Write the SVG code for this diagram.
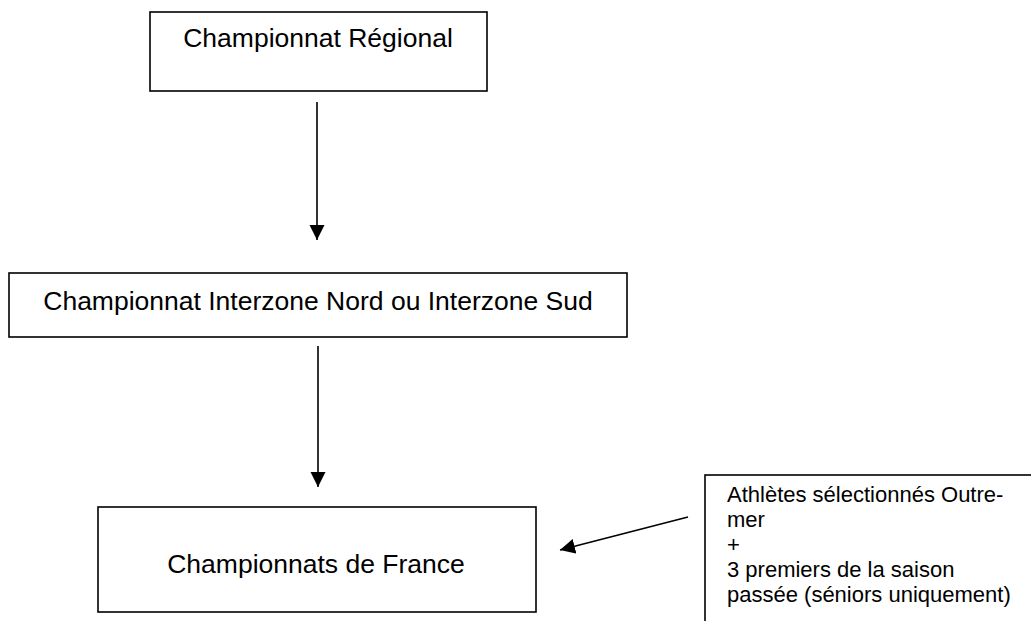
<svg xmlns="http://www.w3.org/2000/svg" width="1031" height="621" viewBox="0 0 1031 621">
  <style>
    .box { fill: #ffffff; stroke: #000000; stroke-width: 1.6; }
    .lbl { font-family: "Liberation Sans", Arial, sans-serif; font-size: 26.5px; fill: #000000; }
    .small { font-family: "Liberation Sans", Arial, sans-serif; font-size: 22px; fill: #000000; }
    .conn { stroke: #000000; stroke-width: 1.6; fill: none; marker-end: url(#arrow); }
  </style>
  <defs>
    <marker id="arrow" markerUnits="userSpaceOnUse" markerWidth="16" markerHeight="16" viewBox="0 0 16 16" refX="15" refY="8" orient="auto">
      <path d="M0,0.5 L15,8 L0,15.5 z" fill="#000000"/>
    </marker>
  </defs>
  <rect width="1031" height="621" fill="#ffffff"/>
  <g id="regional">
    <rect class="box" x="150" y="12" width="337" height="79"/>
    <text class="lbl" x="318" y="47" text-anchor="middle">Championnat Régional</text>
  </g>
  <g id="interzone">
    <rect class="box" x="9" y="273" width="618" height="64"/>
    <text class="lbl" x="318" y="310" text-anchor="middle">Championnat Interzone Nord ou Interzone Sud</text>
  </g>
  <g id="france">
    <rect class="box" x="98" y="507" width="438" height="105"/>
    <text class="lbl" x="316" y="573" text-anchor="middle">Championnats de France</text>
  </g>
  <g id="outremer">
    <rect class="box" x="705" y="475" width="340" height="160"/>
    <text class="small" x="727" y="502">Athlètes sélectionnés Outre-</text>
    <text class="small" x="727" y="527">mer</text>
    <text class="small" x="727" y="552">+</text>
    <text class="small" x="727" y="577">3 premiers de la saison</text>
    <text class="small" x="727" y="602">passée (séniors uniquement)</text>
  </g>
  <g id="connectors">
    <line class="conn" x1="317" y1="102" x2="317" y2="240"/>
    <line class="conn" x1="318" y1="346" x2="318" y2="487"/>
    <line class="conn" x1="688" y1="517" x2="560" y2="550"/>
  </g>
</svg>
